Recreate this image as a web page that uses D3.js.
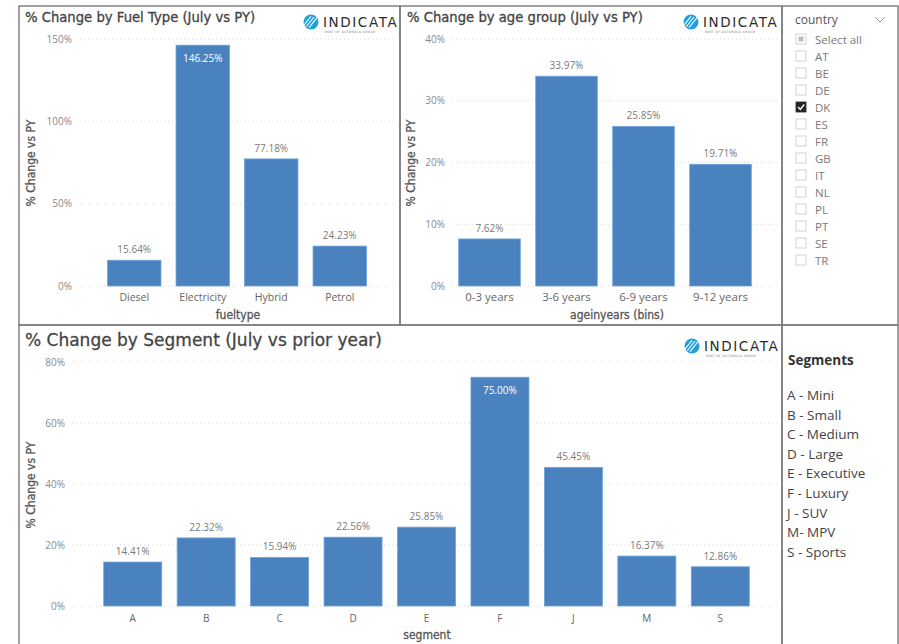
<!DOCTYPE html>
<meta charset="utf-8">
<style>
body { margin: 0; background: #fff; }
svg { display: block; }
.grid line { stroke: #d6d6d6; stroke-dasharray: 1,3; }
.tick-label { font-family: "Open Sans", sans-serif; fill: #8a8a8a; }
.title { font-family: "DejaVu Sans", sans-serif; fill: #444; stroke: #444; stroke-width: 0.3; }
.axis-title { font-family: "DejaVu Sans Condensed", sans-serif; fill: #555; stroke: #555; stroke-width: 0.3; }
</style>
<body>
<script src="https://d3js.org/d3.v7.min.js"></script>
<script>

// chart data
var fuelTypes = ["Diesel", "Electricity", "Hybrid", "Petrol"];
var fuelValues = [15.64, 146.25, 77.18, 24.23];
var fuelTicks = [0, 50, 100, 150];

var ageGroups = ["0-3 years", "3-6 years", "6-9 years", "9-12 years"];
var ageValues = [7.62, 33.97, 25.85, 19.71];
var ageTicks = [0, 10, 20, 30, 40];

var segments = ["A", "B", "C", "D", "E", "F", "J", "M", "S"];
var segmentValues = [14.41, 22.32, 15.94, 22.56, 25.85, 75.00, 45.45, 16.37, 12.86];
var segmentTicks = [0, 20, 40, 60, 80];

var countries = ["AT", "BE", "DE", "DK", "ES", "FR", "GB", "IT", "NL", "PL", "PT", "SE", "TR"];
var selectedCountry = "DK";

var segmentNames = ["A - Mini", "B - Small", "C - Medium", "D - Large", "E - Executive",
                    "F - Luxury", "J - SUV", "M- MPV", "S - Sports"];

var barColor = "#4a82c0";

var svg = d3.select("body").append("svg")
    .attr("width", 899)
    .attr("height", 644);

// panel borders
var panels = [[19, 6, 381, 319], [400, 6, 382, 319], [782, 6, 116, 319],
              [19, 325, 763, 330], [782, 325, 116, 330]];
svg.selectAll("rect.panel").data(panels).enter().append("rect")
    .attr("class", "panel")
    .attr("x", function(d) { return d[0]; })
    .attr("y", function(d) { return d[1]; })
    .attr("width", function(d) { return d[2]; })
    .attr("height", function(d) { return d[3]; })
    .attr("fill", "none")
    .attr("stroke", "#7a7a7a")
    .attr("stroke-width", 1.4);

function logo(x, y) {
  var g = svg.append("g").attr("transform", "translate(" + x + "," + y + ")");
  g.append("circle").attr("r", 7.5).attr("fill", "#1d9fe0");
  [-3, 0, 3].forEach(function(o) {
    g.append("line")
      .attr("x1", -5 + o).attr("y1", 5 + o * 0.2)
      .attr("x2", 3 + o).attr("y2", -5 + o * 0.2)
      .attr("stroke", "#fff").attr("stroke-width", 1.1);
  });
  g.append("text").attr("x", 12).attr("y", 5)
    .attr("font-family", "DejaVu Sans, sans-serif")
    .attr("font-size", 13.5).attr("letter-spacing", 1.6)
    .attr("fill", "#2b2b2b").text("INDICATA");
  g.append("text").attr("x", 14).attr("y", 10.5)
    .attr("font-family", "DejaVu Sans, sans-serif")
    .attr("font-size", 3).attr("letter-spacing", 0.4)
    .attr("fill", "#777").text("PART OF AUTOROLA GROUP");
}

function barChart(o) {
  var x = d3.scaleBand().domain(o.cats).range(o.xRange).paddingInner(o.pad).paddingOuter(o.pad / 2);
  var y = d3.scaleLinear().domain([0, o.max]).range(o.yRange);
  var g = svg.append("g");

  // gridlines
  g.append("g").attr("class", "grid").selectAll("line").data(o.ticks).enter().append("line")
    .attr("x1", o.gridX[0]).attr("x2", o.gridX[1])
    .attr("y1", function(d) { return y(d); })
    .attr("y2", function(d) { return y(d); });

  // y tick labels
  g.selectAll("text.yt").data(o.ticks).enter().append("text")
    .attr("class", "tick-label")
    .attr("x", o.tickX).attr("y", function(d) { return y(d) + 3.5; })
    .attr("text-anchor", "end").attr("font-size", 10)
    .text(function(d) { return d + "%"; });

  // bars
  g.selectAll("rect.bar").data(o.vals).enter().append("rect")
    .attr("x", function(d, i) { return x(o.cats[i]); })
    .attr("y", function(d) { return y(d); })
    .attr("width", x.bandwidth())
    .attr("height", function(d) { return y(0) - y(d); })
    .attr("fill", barColor)
    .attr("stroke", "#6fa3da").attr("stroke-width", 0.8);

  // data labels
  g.selectAll("text.lab").data(o.vals).enter().append("text")
    .attr("class", "tick-label")
    .attr("x", function(d, i) { return x(o.cats[i]) + x.bandwidth() / 2; })
    .attr("y", function(d) { return d / o.max > 0.9 ? y(d) + 17 : y(d) - 7; })
    .attr("text-anchor", "middle").attr("font-size", o.labSize)
    .style("fill", function(d) { return d / o.max > 0.9 ? "#fff" : "#7a7a7a"; })
    .text(function(d) { return d.toFixed(2) + "%"; });

  // x tick labels
  g.selectAll("text.xt").data(o.cats).enter().append("text")
    .attr("class", "tick-label")
    .attr("x", function(d) { return x(d) + x.bandwidth() / 2; })
    .attr("y", y(0) + o.xLabDy)
    .attr("text-anchor", "middle").attr("font-size", o.xLabSize)
    .style("fill", "#666")
    .text(function(d) { return d; });

  // axis titles
  g.append("text").attr("class", "axis-title")
    .attr("x", o.xTitle[0]).attr("y", o.xTitle[1])
    .attr("text-anchor", "middle").attr("font-size", 12)
    .text(o.xName);
  g.append("text").attr("class", "axis-title")
    .attr("transform", "translate(" + o.yTitle[0] + "," + o.yTitle[1] + ") rotate(-90)")
    .attr("text-anchor", "middle").attr("font-size", 12)
    .text("% Change vs PY");

  // chart title
  g.append("text").attr("class", "title")
    .attr("x", o.title[0]).attr("y", o.title[1])
    .attr("font-size", o.titleSize)
    .text(o.titleText);
}

barChart({
  cats: fuelTypes, vals: fuelValues, ticks: fuelTicks, max: 150,
  xRange: [100, 374], pad: 0.22, yRange: [286, 39], gridX: [80, 396], tickX: 72,
  labSize: 10, xLabSize: 10.5, xLabDy: 15,
  xName: "fueltype", xTitle: [238, 319], yTitle: [35, 163],
  titleText: "% Change by Fuel Type (July vs PY)", title: [25, 22], titleSize: 13.2
});

barChart({
  cats: ageGroups, vals: ageValues, ticks: ageTicks, max: 40,
  xRange: [451, 759], pad: 0.2, yRange: [286, 39], gridX: [452, 778], tickX: 445,
  labSize: 10, xLabSize: 11.5, xLabDy: 15,
  xName: "ageinyears (bins)", xTitle: [617, 319], yTitle: [415, 163],
  titleText: "% Change by age group (July vs PY)", title: [407, 22], titleSize: 13.2
});

barChart({
  cats: segments, vals: segmentValues, ticks: segmentTicks, max: 80,
  xRange: [96, 757], pad: 0.21, yRange: [606, 362], gridX: [72, 778], tickX: 65,
  labSize: 10, xLabSize: 10, xLabDy: 16,
  xName: "segment", xTitle: [427, 639], yTitle: [35, 485],
  titleText: "% Change by Segment (July vs prior year)", title: [25, 346], titleSize: 17
});

logo(311, 22);
logo(691, 22);
logo(692, 346);

// country slicer
var slicer = svg.append("g");
slicer.append("text").attr("x", 795).attr("y", 24)
  .attr("font-family", "Open Sans, sans-serif").attr("font-size", 12)
  .attr("fill", "#555").text("country");
slicer.append("path").attr("d", "M875,17 L880,22 L885,17")
  .attr("fill", "none").attr("stroke", "#999").attr("stroke-width", 1);

var items = ["Select all"].concat(countries);
var row = slicer.selectAll("g.item").data(items).enter().append("g")
  .attr("transform", function(d, i) { return "translate(796," + (34 + i * 17) + ")"; });
row.append("rect").attr("width", 10).attr("height", 10)
  .attr("fill", function(d) { return d === selectedCountry ? "#252525" : "#fff"; })
  .attr("stroke", function(d) { return d === selectedCountry ? "#252525" : "#c8c8c8"; })
  .attr("stroke-width", 0.8);
row.filter(function(d) { return d === "Select all"; }).append("rect")
  .attr("x", 2.5).attr("y", 2.5).attr("width", 5).attr("height", 5).attr("fill", "#bdbdbd");
row.filter(function(d) { return d === selectedCountry; }).append("path")
  .attr("d", "M2,5 L4.3,7.5 L8.2,2.5").attr("fill", "none")
  .attr("stroke", "#fff").attr("stroke-width", 1.3);
row.append("text").attr("x", 19).attr("y", 9.5)
  .attr("font-family", "Open Sans, sans-serif").attr("font-size", 11.5)
  .attr("fill", "#7a7a7a")
  .text(function(d) { return d; });

// segment legend
svg.append("text").attr("x", 788).attr("y", 365)
  .attr("font-family", "Open Sans, sans-serif").attr("font-weight", "bold")
  .attr("font-size", 13.5).attr("fill", "#333").text("Segments");
svg.selectAll("text.seg").data(segmentNames).enter().append("text")
  .attr("x", 787).attr("y", function(d, i) { return 400 + i * 19.6; })
  .attr("font-family", "Open Sans, sans-serif").attr("font-size", 13.5)
  .attr("fill", "#444").text(function(d) { return d; });

</script>
</body>
